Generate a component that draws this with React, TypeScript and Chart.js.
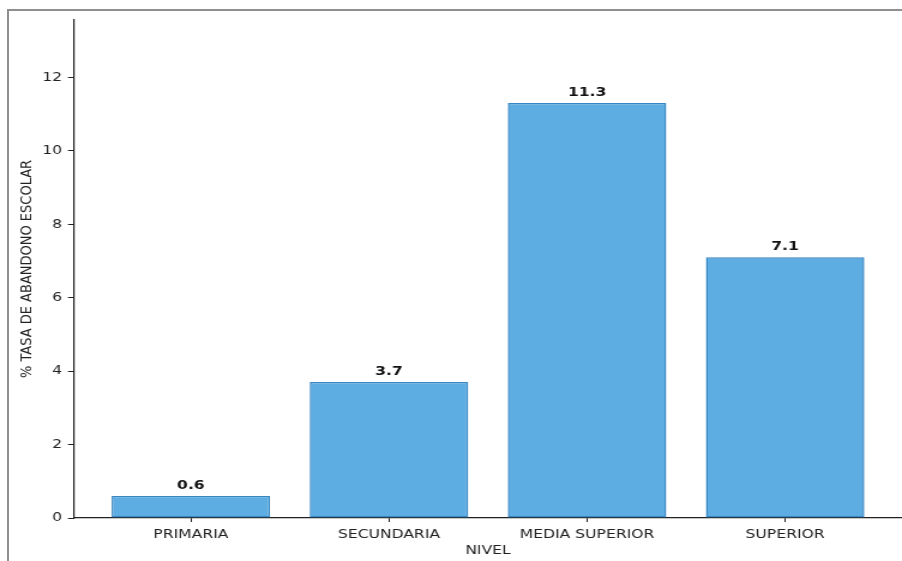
import React, { useEffect, useRef } from 'react'
import { Chart, registerables } from 'chart.js'

Chart.register(...registerables)

// the reference is stretched sideways, so the canvas is drawn narrow and widened by CSS
const STRETCH = 1.2
const OUT_W = 902
const OUT_H = 561
const CANVAS_W = Math.round(OUT_W / STRETCH)
const toCanvasX = (px: number) => px * CANVAS_W / OUT_W

const LEVELS = ['PRIMARIA', 'SECUNDARIA', 'MEDIA SUPERIOR', 'SUPERIOR']
const RATES = [0.6, 3.7, 11.3, 7.1]
const Y_TICKS = [0, 2, 4, 6, 8, 10, 12]
const Y_MAX = 13.56

const FONT = '"DejaVu Sans", Verdana, sans-serif'
const INK = '#222222'

const barLabels = {
  id: 'barLabels',
  afterDatasetsDraw(chart: Chart) {
    const { ctx } = chart
    const meta = chart.getDatasetMeta(0)
    ctx.save()
    ctx.font = `bold 13px ${FONT}`
    ctx.fillStyle = '#111111'
    ctx.textAlign = 'center'
    ctx.textBaseline = 'alphabetic'
    meta.data.forEach((bar, i) => {
      ctx.fillText(RATES[i].toFixed(1), bar.x, bar.y - 7)
    })
    ctx.restore()
  }
}

export default function App() {
  const canvasRef = useRef<HTMLCanvasElement>(null)

  useEffect(() => {
    if (!canvasRef.current) return

    const chart = new Chart(canvasRef.current, {
      type: 'bar',
      data: {
        datasets: [{
          data: RATES.map((v, i) => ({ x: i, y: v })),
          backgroundColor: '#5DADE2',
          borderColor: '#3687C4',
          borderWidth: 1.5,
          borderSkipped: false,
          barPercentage: 0.8,
          categoryPercentage: 1.0
        }]
      },
      options: {
        responsive: false,
        animation: false,
        layout: { padding: { top: 20, left: 0, right: 0, bottom: 0 } },
        plugins: {
          legend: { display: false },
          tooltip: { enabled: false }
        },
        scales: {
          x: {
            type: 'linear',
            min: -0.59,
            max: 3.59,
            offset: false,
            afterBuildTicks: (axis) => {
              axis.ticks = LEVELS.map((_, i) => ({ value: i }))
            },
            afterFit: (axis) => {
              axis.height = 43
            },
            grid: {
              offset: false,
              drawOnChartArea: false,
              drawTicks: true,
              tickLength: 4,
              tickColor: INK
            },
            border: { display: true, color: INK, width: 1.2 },
            ticks: {
              color: INK,
              font: { family: FONT, size: 13 },
              padding: 5,
              maxRotation: 0,
              autoSkip: false,
              callback: (value) => LEVELS[Number(value)] ?? ''
            },
            title: {
              display: true,
              text: 'NIVEL',
              color: INK,
              font: { family: FONT, size: 13 },
              padding: { top: 0, bottom: 3 }
            }
          },
          y: {
            type: 'linear',
            min: 0,
            max: Y_MAX,
            afterBuildTicks: (axis) => {
              axis.ticks = Y_TICKS.map(v => ({ value: v }))
            },
            afterFit: (axis) => {
              axis.width = toCanvasX(74)
            },
            grid: {
              drawOnChartArea: false,
              drawTicks: true,
              tickLength: toCanvasX(6),
              tickColor: INK
            },
            border: { display: true, color: INK, width: 1.2 },
            ticks: {
              color: INK,
              font: { family: FONT, size: 13 },
              padding: toCanvasX(6),
              callback: (value) => String(value)
            },
            title: {
              display: true,
              text: '% TASA DE ABANDONO ESCOLAR',
              color: INK,
              font: { family: FONT, size: 13 },
              padding: { top: toCanvasX(27) - 7.8, bottom: 0 }
            }
          }
        }
      },
      plugins: [barLabels]
    })

    return () => {
      chart.destroy()
    }
  }, [])

  return (
    <div style={{ position: 'absolute', left: 0, top: 0, width: OUT_W, height: OUT_H, overflow: 'hidden', background: '#fff' }}>
      {/* grey frame from the screenshot */}
      <div style={{
        position: 'absolute', left: 7, top: 9, right: -10, bottom: -10,
        borderTop: '2px solid #8f8f8f', borderLeft: '2px solid #8f8f8f'
      }} />
      <canvas
        ref={canvasRef}
        width={CANVAS_W}
        height={OUT_H}
        style={{ position: 'absolute', left: 0, top: 0, width: OUT_W, height: OUT_H, display: 'block' }}
      />
    </div>
  )
}
